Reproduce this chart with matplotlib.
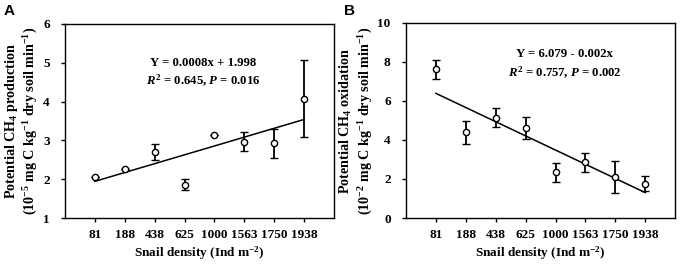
import matplotlib
matplotlib.use("Agg")
import matplotlib.pyplot as plt

plt.rcParams['font.family'] = ['Liberation Serif', 'DejaVu Serif']
plt.rcParams['mathtext.fontset'] = 'custom'
plt.rcParams['mathtext.rm'] = 'Liberation Serif:bold'
plt.rcParams['mathtext.it'] = 'Liberation Serif:bold:italic'
plt.rcParams['mathtext.bf'] = 'Liberation Serif:bold'

categories = ["81", "188", "438", "625", "1000", "1563", "1750", "1938"]

prod_mean = [2.06, 2.27, 2.70, 1.86, 3.15, 2.97, 2.92, 4.07]
prod_err = [0.0, 0.0, 0.20, 0.14, 0.0, 0.25, 0.37, 0.99]
prod_fit = [1.945, 3.54]

oxid_mean = [7.62, 4.39, 5.15, 4.60, 2.34, 2.85, 2.10, 1.76]
oxid_err = [0.50, 0.60, 0.50, 0.56, 0.50, 0.50, 0.80, 0.40]
oxid_fit = [6.39, 1.30]

fig = plt.figure(figsize=(6.8, 2.64), dpi=100)
axA = fig.add_axes([0.0956, 0.1742, 0.3956, 0.735])
axB = fig.add_axes([0.597, 0.1742, 0.396, 0.739])

pos = list(range(1, len(categories) + 1))
ft = 9.5
fe = 9.2
fl = 10.2

def style(ax, ylim, yticks):
    ax.set_xlim(0, 9)
    ax.set_ylim(*ylim)
    ax.set_yticks(yticks)
    ax.set_xticks(pos)
    ax.set_xticklabels(categories, fontsize=ft, fontweight='bold')
    for lab in ax.get_yticklabels():
        lab.set_fontsize(ft)
        lab.set_fontweight('bold')
    ax.tick_params(direction='out', length=3, width=1)
    ax.tick_params(axis='x', pad=5)
    ax.tick_params(axis='y', pad=8)
    for s in ax.spines.values():
        s.set_linewidth(1)
    ax.set_xlabel(r"Snail density (Ind m$^{\mathbf{-2}}$)", fontsize=ft, fontweight='bold', labelpad=2)

def draw(ax, mean, err, fit):
    ax.plot([pos[0], pos[-1]], fit, color='black', lw=1.1, zorder=2)
    ax.errorbar(pos, mean, yerr=err, fmt='o', ms=4.5, mfc='white', mec='black',
                mew=1, ecolor='black', elinewidth=1.3, capsize=3, capthick=1.3, zorder=3)

draw(axA, prod_mean, prod_err, prod_fit)
style(axA, (1, 6), [1, 2, 3, 4, 5, 6])
axA.set_ylabel("Potential CH$_\\mathbf{4}$ production\n(10$^{\\mathbf{-5}}$ mg C kg$^{\\mathbf{-1}}$ dry soil min$^{\\mathbf{-1}}$)",
               fontsize=fl, fontweight='bold', linespacing=1.15, labelpad=2)
axA.text(0.515, 0.80, "Y = 0.0008x + 1.998", transform=axA.transAxes, ha='center', va='center',
         fontsize=fe, fontweight='bold')
axA.text(0.515, 0.705, r"$R^{2}$ = 0.645, $P$ = 0.016", transform=axA.transAxes, ha='center', va='center',
         fontsize=fe, fontweight='bold')

draw(axB, oxid_mean, oxid_err, oxid_fit)
style(axB, (0, 10), [0, 2, 4, 6, 8, 10])
axB.set_ylabel("Potential CH$_\\mathbf{4}$ oxidation\n(10$^{\\mathbf{-2}}$ mg C kg$^{\\mathbf{-1}}$ dry soil min$^{\\mathbf{-1}}$)",
               fontsize=fl, fontweight='bold', linespacing=1.15, labelpad=2)
axB.text(0.59, 0.84, "Y = 6.079 - 0.002x", transform=axB.transAxes, ha='center', va='center',
         fontsize=fe, fontweight='bold')
axB.text(0.59, 0.745, r"$R^{2}$ = 0.757, $P$ = 0.002", transform=axB.transAxes, ha='center', va='center',
         fontsize=fe, fontweight='bold')

fig.text(0.005, 0.985, "A", fontsize=11, fontweight='bold', family='Liberation Sans', va='top')
fig.text(0.506, 0.985, "B", fontsize=11, fontweight='bold', family='Liberation Sans', va='top')

fig.savefig("out.png", dpi=100)
